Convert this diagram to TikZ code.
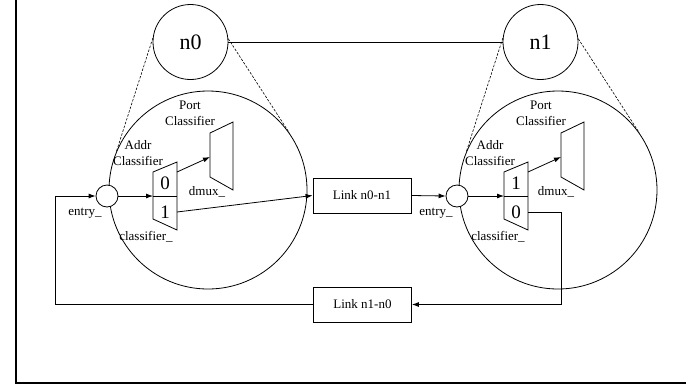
\documentclass[tikz,border=0pt]{standalone}
\usepackage{fontspec}
\setmainfont{Liberation Serif}
\usetikzlibrary{arrows.meta}
\tikzset{
  ln/.style={line width=0.8pt},
  arr/.style={ln,-{Latex[length=7pt,width=5pt]}},
  dsh/.style={line width=0.6pt,dash pattern=on 2.5pt off 1.5pt},
  lbl/.style={font=\fontsize{13}{16}\selectfont,align=center,inner sep=0pt},
  dig/.style={font=\fontsize{19}{19}\selectfont,inner sep=0pt},
  bignum/.style={circle,draw,ln,minimum size=75pt,inner sep=0pt,font=\fontsize{22}{22}\selectfont},
  zoomc/.style={circle,draw,ln,minimum size=198pt,inner sep=0pt},
  entryc/.style={circle,draw,ln,fill=white,minimum size=22pt,inner sep=0pt},
  linkbox/.style={rectangle,draw,ln,minimum width=98pt,minimum height=35pt,inner sep=0pt,font=\fontsize{13}{16}\selectfont},
  shp/.style={ln,draw,fill=white}
}
\begin{document}
\begin{tikzpicture}[x=1pt,y=-1pt]
\useasboundingbox (0,0) rectangle (686,384);
% frame
\draw[line width=2pt] (16,0) -- (16,382.5) -- (686,382.5);

% top nodes
\node[bignum] (n0) at (190.5,42) {n0};
\node[bignum] (n1) at (540.5,42) {n1};
\draw[ln] (n0.east) -- (n1.west);

% zoom circles
\node[zoomc] (z0) at (208,190) {};
\node[zoomc] (z1) at (558,190) {};
\draw[dsh] (n0.174) -- (z0.157);
\draw[dsh] (n0.5) -- (z0.35);
\draw[dsh] (n1.174) -- (z1.157);
\draw[dsh] (n1.5) -- (z1.35);

% links
\node[linkbox] (l01) at (362,195.5) {Link n0-n1};
\node[linkbox] (l10) at (362.5,304.5) {Link n1-n0};

% ---------- n0 internals
\node[entryc] (e0) at (107,196) {};
\draw[shp] (153,172) -- (177,162) -- (177,230) -- (153,219) -- cycle;
\draw[ln] (153,196) -- (177,196);
\coordinate (c0in) at (153,196);
\coordinate (c0o0) at (177,172);
\coordinate (c0o1) at (177,212);
\node[dig] (c0d0) at (165,183) {0};
\node[dig] (c0d1) at (165,212) {1};
\draw[shp] (210,133) -- (233,122) -- (233,190) -- (210,177) -- cycle;
\coordinate (d0in) at (210,157);
\draw[arr] (e0.east) -- (c0in);
\draw[arr] (c0o0) -- (d0in);
\draw[arr] (c0o1) -- (l01.west);
\node[lbl] (t0e) at (85,213) {entry\_};
\node[lbl] (t0c) at (146,237) {classifier\_};
\node[lbl] (t0a) at (138,153) {Addr\\Classifier};
\node[lbl] (t0p) at (190,113) {Port\\Classifier};
\node[lbl] (t0d) at (207,192) {dmux\_};

% ---------- n1 internals
\node[entryc] (e1) at (457,196) {};
\draw[shp] (504,172) -- (528,162) -- (528,230) -- (504,219) -- cycle;
\draw[ln] (504,196) -- (528,196);
\coordinate (c1in) at (504,196);
\coordinate (c1o1) at (528,172);
\coordinate (c1o0) at (528,212);
\node[dig] (c1d1) at (516,183) {1};
\node[dig] (c1d0) at (516,212) {0};
\draw[shp] (561,133) -- (584,122) -- (584,190) -- (561,177) -- cycle;
\coordinate (d1in) at (561,157);
\draw[arr] (e1.east) -- (c1in);
\draw[arr] (c1o1) -- (d1in);
\node[lbl] (t1e) at (436,213) {entry\_};
\node[lbl] (t1c) at (498,237) {classifier\_};
\node[lbl] (t1a) at (490,153) {Addr\\Classifier};
\node[lbl] (t1p) at (541,113) {Port\\Classifier};
\node[lbl] (t1d) at (556,192) {dmux\_};

% ---------- links between
\draw[arr] (l01.east) -- (e1.west);
\coordinate (r1) at (561,212);
\coordinate (r2) at (561,304.5);
\draw[arr] (c1o0) -- (r1) -- (r2) -- (l10.east);
\coordinate (f1) at (55,304.5);
\coordinate (f2) at (55,196);
\draw[arr] (l10.west) -- (f1) -- (f2) -- (e0.west);
\end{tikzpicture}
\end{document}
